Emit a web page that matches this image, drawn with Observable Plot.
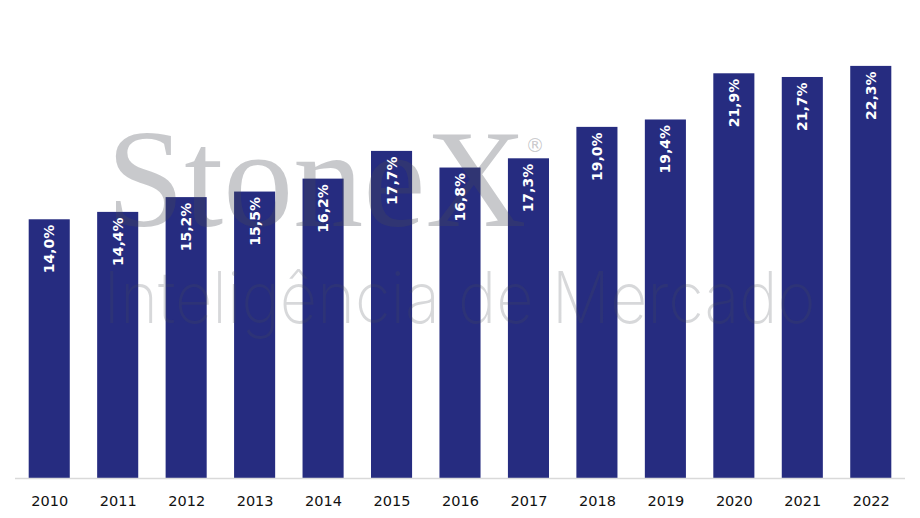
<!DOCTYPE html>
<html>
<head>
<meta charset="utf-8">
<script src="https://cdn.jsdelivr.net/npm/d3@7"></script>
<script src="https://cdn.jsdelivr.net/npm/@observablehq/plot@0.6"></script>
<style>
  html, body { margin: 0; padding: 0; background: #fff; }
  #chart { width: 920px; height: 518px; }
</style>
</head>
<body>
<div id="chart"></div>
<script>
const years = ["2010","2011","2012","2013","2014","2015","2016","2017","2018","2019","2020","2021","2022"];
const values = [14.0, 14.4, 15.2, 15.5, 16.2, 17.7, 16.8, 17.3, 19.0, 19.4, 21.9, 21.7, 22.3];
const watermarkBrand = "StoneX";
const watermarkReg = "®";
const watermarkSub = "Inteligência de Mercado";

const data = years.map((y, i) => ({year: y, value: values[i]}));
const fmt = v => v.toFixed(1).replace(".", ",") + "%";

const plot = Plot.plot({
  width: 920,
  height: 518,
  marginTop: 16,
  marginBottom: 40,
  marginLeft: 15,
  marginRight: 15,
  style: {fontFamily: "'DejaVu Sans', Verdana, sans-serif", background: "#fff"},
  x: {domain: years, paddingInner: 0.4, paddingOuter: 0.2, round: false, label: null},
  y: {domain: [0, 25], axis: null},
  marks: [
    Plot.barY(data, {x: "year", y: "value", fill: "#262c80"}),
    Plot.ruleY([0], {stroke: "#d9d9d9", strokeWidth: 1.5}),
    Plot.text([watermarkBrand], {frameAnchor: "top-left", text: d => d, dx: 91, dy: 110, textAnchor: "start", lineAnchor: "top", fontSize: 140, fontFamily: "'Liberation Serif', 'Times New Roman', serif", fill: "#4a4d55", fillOpacity: 0.3}),
    Plot.text([watermarkReg], {frameAnchor: "top-left", text: d => d, dx: 510, dy: 129, textAnchor: "start", lineAnchor: "middle", fontSize: 19, fontFamily: "'DejaVu Sans', sans-serif", fill: "#4a4d55", fillOpacity: 0.3}),
    Plot.text([watermarkSub], {frameAnchor: "top-left", text: d => d, dx: 88, dy: 255, textAnchor: "start", lineAnchor: "top", fontSize: 72, fontWeight: 200, fontFamily: "Inter, Roboto, 'Liberation Sans', sans-serif", fill: "#4a4d55", fillOpacity: 0.22}),
    Plot.text(data, {x: "year", y: "value", text: d => fmt(d.value), rotate: -90, textAnchor: "end", lineAnchor: "middle", dy: 5, fill: "#ffffff", fontWeight: "bold", fontSize: 14}),
    Plot.axisX({tickSize: 0, tickPadding: 17, fontSize: 14.5, color: "#111", label: null})
  ]
});
d3.select(plot).selectAll("text").filter(function() { return this.textContent === watermarkSub; })
  .attr("textLength", 712).attr("lengthAdjust", "spacingAndGlyphs");
document.getElementById("chart").appendChild(plot);
</script>
</body>
</html>
